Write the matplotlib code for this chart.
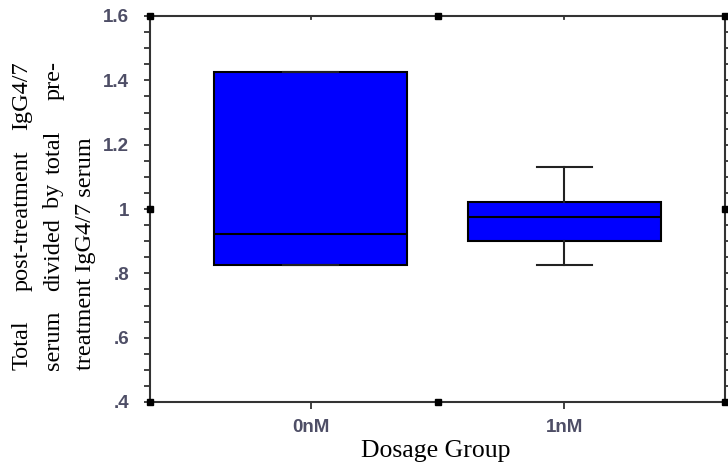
#!/usr/bin/env python
import numpy as np
import matplotlib
matplotlib.use('Agg')
import matplotlib.pyplot as plt

# data
groups = ['0nM', '1nM']
q1 = [0.826, 0.901]
median = [0.922, 0.975]
q3 = [1.426, 1.022]
whislo = [0.826, 0.826]
whishi = [1.426, 1.131]

yticks = [0.4, 0.6, 0.8, 1.0, 1.2, 1.4, 1.6]
yticklabels = ['.4', '.6', '.8', '1', '1.2', '1.4', '1.6']

W, H = 728, 468
fig = plt.figure(figsize=(W/100., H/100.), dpi=100)
ax = fig.add_axes([150./W, 1-402./H, 575./W, 386./H])

stats = []
for i in range(len(groups)):
	stats.append({'label': groups[i], 'q1': q1[i], 'med': median[i], 'q3': q3[i],
		'whislo': whislo[i], 'whishi': whishi[i], 'fliers': []})

ax.bxp(stats, positions=[0, 1], widths=0.76, capwidths=0.217, patch_artist=True,
	boxprops=dict(facecolor='#0000ff', edgecolor='black', linewidth=1.5),
	medianprops=dict(color='black', linewidth=1.5),
	whiskerprops=dict(color='#222222', linewidth=1.5),
	capprops=dict(color='#222222', linewidth=1.5))

ax.set_xlim(-0.634, 1.634)
ax.set_ylim(0.4, 1.6)

# axes styling
for s in ax.spines.values():
	s.set_color('#333333')
	s.set_linewidth(1.5)

tickcol = '#4e4e66'
ax.set_yticks(yticks)
ax.set_yticklabels(yticklabels, fontsize=13.5, family='Liberation Sans', weight='bold', color=tickcol)
ax.set_yticks(np.arange(0.4, 1.6001, 0.05), minor=True)
ax.tick_params(axis='y', which='both', direction='out', length=4, width=1.3, color='#333333',
	left=True, right=True, pad=11)
ax.set_xticks([0, 1])
ax.set_xticklabels(groups, fontsize=13.5, family='Liberation Sans', weight='bold', color=tickcol)
ax.tick_params(axis='x', which='major', direction='out', length=5, width=1.3, color='#333333',
	bottom=True, top=False, pad=7)
# small inward ticks on top edge
for xp in [0, 1]:
	ax.plot([xp, xp], [1.6, 1.59], color='#333333', lw=1.3, clip_on=False)

# little square handles on the frame
hx = [-0.634, 0.5, 1.634, -0.634, 0.5, 1.634, -0.634, 1.634]
hy = [1.6, 1.6, 1.6, 0.4, 0.4, 0.4, 1.0, 1.0]
ax.plot(hx, hy, 's', ms=5, color='black', clip_on=False, zorder=5)

# y label, justified three-line block
fs = 17.5
def px(x, y):
	return x/float(W), 1-y/float(H)

fig.text(*px(22, 370), 'Total', rotation=90, ha='center', va='bottom', family='Liberation Serif', fontsize=fs)
fig.text(*px(22, 221), 'post-treatment', rotation=90, ha='center', va='center', family='Liberation Serif', fontsize=fs)
fig.text(*px(22, 61), 'IgG4/7', rotation=90, ha='center', va='top', family='Liberation Serif', fontsize=fs)

fig.text(*px(54, 370), 'serum', rotation=90, ha='center', va='bottom', family='Liberation Serif', fontsize=fs)
fig.text(*px(54, 255), 'divided', rotation=90, ha='center', va='center', family='Liberation Serif', fontsize=fs)
fig.text(*px(54, 196), 'by', rotation=90, ha='center', va='center', family='Liberation Serif', fontsize=fs)
fig.text(*px(54, 152), 'total', rotation=90, ha='center', va='center', family='Liberation Serif', fontsize=fs)
fig.text(*px(54, 61), 'pre-', rotation=90, ha='center', va='top', family='Liberation Serif', fontsize=fs)

fig.text(*px(86, 370), 'treatment IgG4/7 serum', rotation=90, ha='center', va='bottom', family='Liberation Serif', fontsize=fs)

fig.text(*px(436, 451), 'Dosage Group', ha='center', va='center', family='Liberation Serif', fontsize=18.5)

plt.savefig('out.png', dpi=100)
